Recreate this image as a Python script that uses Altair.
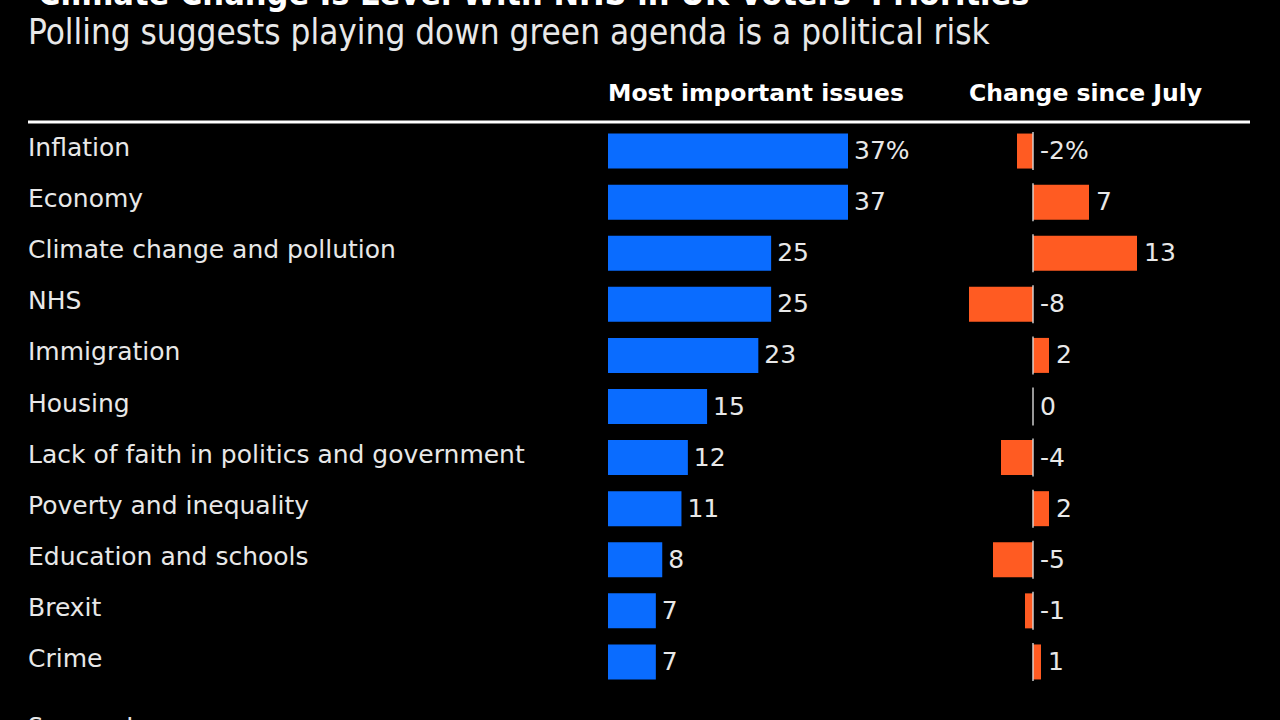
import altair as alt
import pandas as pd

issues = ["Inflation", "Economy", "Climate change and pollution", "NHS", "Immigration",
          "Housing", "Lack of faith in politics and government", "Poverty and inequality",
          "Education and schools", "Brexit", "Crime"]
share = [37, 37, 25, 25, 23, 15, 12, 11, 8, 7, 7]
change = [-2, 7, 13, -8, 2, 0, -4, 2, -5, -1, 1]
share_labels = ["37%"] + [str(v) for v in share[1:]]
change_labels = ["-2%"] + [str(v) for v in change[1:]]

title = "Climate Change Is Level With NHS in UK Voters' Priorities"
subtitle = "Polling suggests playing down green agenda is a political risk"
head1 = "Most important issues"
head2 = "Change since July"
source = "Source: Ipsos"

df = pd.DataFrame({
    "issue": issues, "share": share, "change": change,
    "share_label": share_labels, "change_label": change_labels,
    "zero": [0] * len(issues),
})
df["change_lab_x"] = df["change"].clip(lower=0)

BG = "#000000"
TXT = "#e8e8e8"
BLUE = "#0a6cff"
ORANGE = "#ff5b22"
FONT = "DejaVu Sans"
COND = "Liberation Sans Narrow, DejaVu Sans Condensed, sans-serif"

y_enc = alt.Y("issue:N", sort=issues, axis=None,
              scale=alt.Scale(domain=issues, range=[125.5, 687.5],
                              paddingInner=0.315, paddingOuter=0.1575))
xs_share = alt.Scale(domain=[0, 37], range=[611, 848])
xs_change = alt.Scale(domain=[-8, 13], range=[969, 1137])

base = alt.Chart(df)

labels = base.mark_text(align="left", baseline="middle", font=FONT, fontSize=25,
                        color=TXT, dy=-3).encode(
    x=alt.value(28), y=y_enc, text="issue:N")

share_bars = base.mark_bar(color=BLUE).encode(
    x=alt.X("share:Q", scale=xs_share, axis=None, stack=None),
    x2=alt.value(608), y=y_enc)
share_text = base.mark_text(align="left", baseline="middle", font=FONT, fontSize=25,
                            color=TXT, dx=6).encode(
    x=alt.X("share:Q", scale=xs_share, axis=None), y=y_enc, text="share_label:N")

change_bars = base.mark_bar(color=ORANGE).encode(
    x=alt.X("change:Q", scale=xs_change, axis=None),
    x2=alt.X2("zero:Q"), y=y_enc)
zero_ticks = base.mark_tick(color="#d9d9d9", thickness=2, size=38, orient="vertical").encode(
    x=alt.X("zero:Q", scale=xs_change, axis=None), y=y_enc)
change_text = base.mark_text(align="left", baseline="middle", font=FONT, fontSize=25,
                             color=TXT, dx=7).encode(
    x=alt.X("change_lab_x:Q", scale=xs_change, axis=None), y=y_enc, text="change_label:N")

one = pd.DataFrame({"t": [title], "s": [subtitle], "h1": [head1], "h2": [head2], "src": [source]})
ob = alt.Chart(one)
title_t = ob.mark_text(align="left", baseline="alphabetic", font=COND, fontSize=34,
                       fontWeight="bold", color="#ffffff").encode(
    x=alt.value(38), y=alt.value(5), text="t:N")
sub_t = ob.mark_text(align="left", baseline="alphabetic", font=COND, fontSize=34.8,
                     color=TXT).encode(x=alt.value(28), y=alt.value(44), text="s:N")
h1_t = ob.mark_text(align="left", baseline="alphabetic", font=FONT, fontSize=23.5,
                    fontWeight="bold", color="#ffffff").encode(
    x=alt.value(608), y=alt.value(101), text="h1:N")
h2_t = ob.mark_text(align="left", baseline="alphabetic", font=FONT, fontSize=23.5,
                    fontWeight="bold", color="#ffffff").encode(
    x=alt.value(969), y=alt.value(101), text="h2:N")
src_t = ob.mark_text(align="left", baseline="alphabetic", font=FONT, fontSize=24,
                     color=TXT).encode(x=alt.value(28), y=alt.value(735), text="src:N")
hline = ob.mark_rule(color="#ffffff", strokeWidth=3).encode(
    x=alt.value(28), x2=alt.value(1250), y=alt.value(122))

chart = alt.layer(
    labels, share_bars, share_text, change_bars, zero_ticks, change_text,
    title_t, sub_t, h1_t, h2_t, src_t, hline
).resolve_scale(x="independent").properties(
    width=1280, height=720, padding=0,
    autosize=alt.AutoSizeParams(type="none"),
    background=BG,
).configure_view(stroke=None, clip=False)

chart.save("out.html", embed_options={"renderer": "svg", "actions": False})
